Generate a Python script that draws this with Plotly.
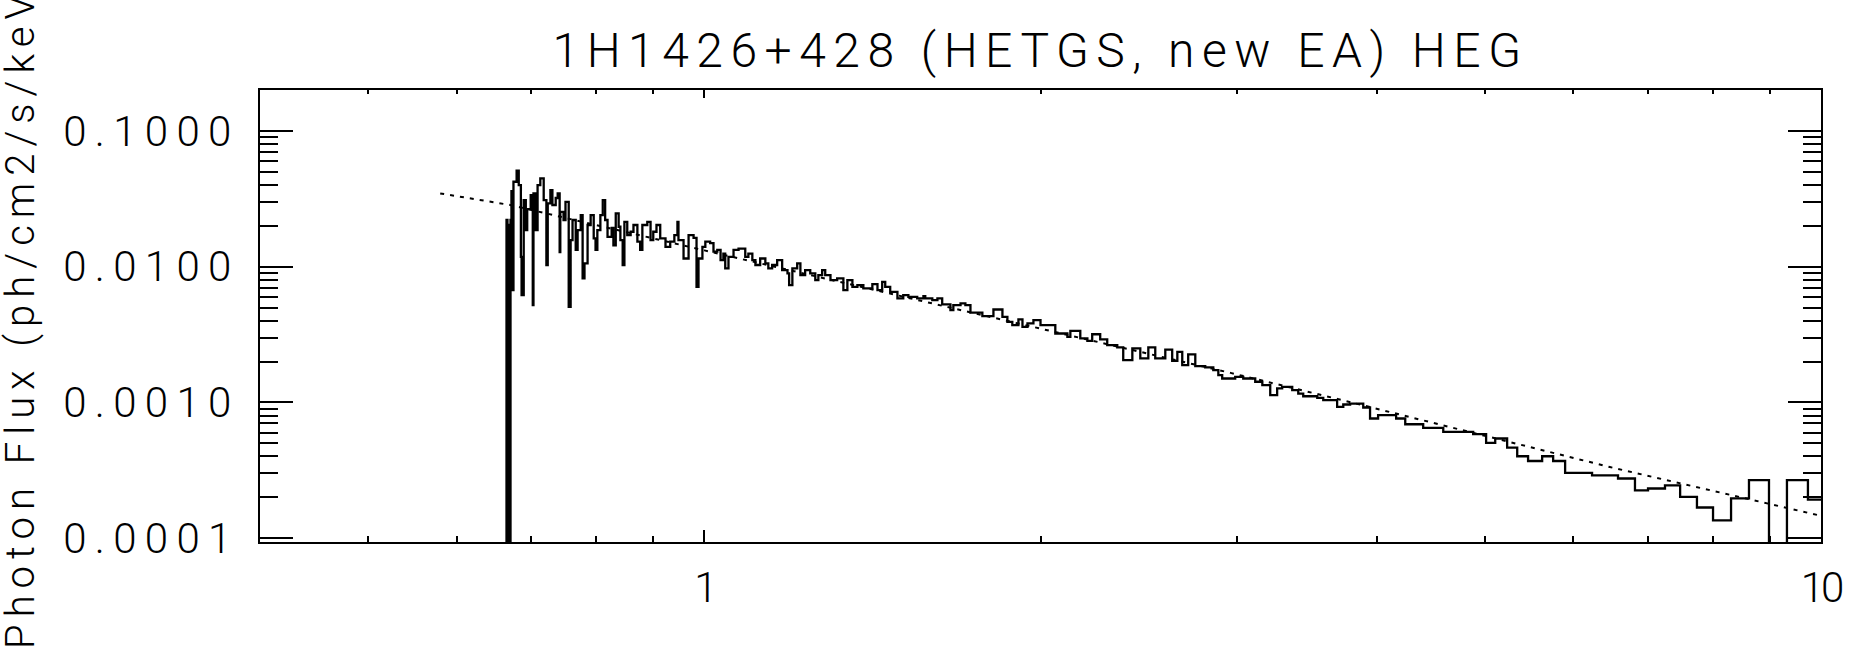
import plotly.graph_objects as go

# HEG first-order spectrum of 1H1426+428, drawn as a step histogram.
# Lower bin edges in keV and the photon flux of each bin (ph/cm2/s/keV);
# a flux of 0.0 marks a bin with no positive flux.

# soft band, below 1 keV
soft_lo_kev = [
    0.6636, 0.6650, 0.6663, 0.6677, 0.6691, 0.6705, 0.6718, 0.6732, 0.6746, 0.679,
    0.682, 0.685, 0.686, 0.689, 0.692, 0.694, 0.699, 0.702, 0.703, 0.706,
    0.709, 0.713, 0.718, 0.722, 0.724, 0.728, 0.731, 0.736, 0.739, 0.742,
    0.743, 0.748, 0.751, 0.756, 0.759, 0.762, 0.767, 0.770, 0.775, 0.778,
    0.781, 0.786, 0.791, 0.796, 0.799, 0.802, 0.807, 0.811, 0.815, 0.819,
    0.826, 0.829, 0.833, 0.838, 0.841, 0.845, 0.848, 0.853, 0.859, 0.864,
    0.871, 0.876, 0.880, 0.889, 0.895, 0.900, 0.906, 0.913, 0.923, 0.932,
    0.940, 0.946, 0.948, 0.958, 0.968, 0.978, 0.984, 0.988, 0.996,
]
soft_flux = [
    0.0, 0.0221, 0.0, 0.0203, 0.0, 0.0221, 0.0361, 0.00672, 0.0423, 0.0510,
    0.0400, 0.0118, 0.00617, 0.0310, 0.0186, 0.0266, 0.0337, 0.00521, 0.0347, 0.0186,
    0.0400, 0.0448, 0.0310, 0.0103, 0.0293, 0.0367, 0.0285, 0.0321, 0.0347, 0.0128,
    0.0254, 0.0221, 0.0301, 0.00506, 0.0157, 0.0221, 0.0133, 0.0186, 0.0240, 0.00820,
    0.0106, 0.0203, 0.0240, 0.0162, 0.0133, 0.0186, 0.0240, 0.0310, 0.0221, 0.0166,
    0.0193, 0.0144, 0.0247, 0.0197, 0.0157, 0.0103, 0.0214, 0.0171, 0.0181, 0.0203,
    0.0153, 0.0133, 0.0203, 0.0214, 0.0157, 0.0181, 0.0203, 0.0162, 0.0140, 0.0153,
    0.0171, 0.0214, 0.0157, 0.0115, 0.0171, 0.0163, 0.00711, 0.0115, 0.0140,
]

# hard band, 1 keV and up
hard_lo_kev = [
    1.002, 1.012,
    1.019, 1.027, 1.034, 1.040, 1.044, 1.051, 1.062, 1.073, 1.088, 1.095,
    1.104, 1.111, 1.122, 1.134, 1.141, 1.150, 1.162, 1.174, 1.187, 1.191,
    1.199, 1.211, 1.219, 1.231, 1.244, 1.257, 1.265, 1.275, 1.283, 1.297,
    1.315, 1.332, 1.343, 1.357, 1.371, 1.388, 1.414, 1.429, 1.443, 1.452,
    1.467, 1.489, 1.507, 1.523, 1.551, 1.571, 1.577, 1.600, 1.617, 1.633,
    1.661, 1.671, 1.696, 1.713, 1.731, 1.774, 1.815, 1.849, 1.868, 1.887,
    1.911, 1.927, 1.947, 1.971, 2.000, 2.062, 2.114, 2.127, 2.171, 2.203,
    2.225, 2.262, 2.295, 2.343, 2.372, 2.417, 2.457, 2.498, 2.534, 2.587,
    2.624, 2.652, 2.679, 2.712, 2.752, 2.809, 2.856, 2.886, 2.909, 2.988,
    3.038, 3.114, 3.160, 3.212, 3.258, 3.292, 3.361, 3.403, 3.438, 3.539,
    3.583, 3.687, 3.734, 3.787, 3.891, 3.946, 4.012, 4.164, 4.243, 4.403,
    4.589, 4.881, 5.013, 5.108, 5.235, 5.345, 5.466, 5.627, 5.756, 5.900,
    6.237, 6.580, 6.814, 7.000, 7.249, 7.479, 7.743, 8.004, 8.307, 8.620,
    8.983, 9.322, 9.734,
]
hard_flux = [
    0.0153, 0.0149,
    0.0129, 0.0133, 0.0112, 0.0125, 0.00971, 0.0118, 0.0133, 0.0136, 0.0118, 0.0125,
    0.0112, 0.0103, 0.0115, 0.0106, 0.00971, 0.0103, 0.0112, 0.00944, 0.00892, 0.00732,
    0.00971, 0.0106, 0.00867, 0.00944, 0.00892, 0.00796, 0.00867, 0.00944, 0.00867, 0.00796,
    0.00820, 0.00672, 0.00796, 0.00711, 0.00732, 0.00692, 0.00744, 0.00672, 0.00774, 0.00711,
    0.00653, 0.00584, 0.00617, 0.00600, 0.00584, 0.00607, 0.00584, 0.00567, 0.00584, 0.00527,
    0.00479, 0.00521, 0.00536, 0.00521, 0.00459, 0.00432, 0.00484, 0.00427, 0.00392, 0.00371,
    0.00409, 0.00360, 0.00382, 0.00404, 0.00371, 0.00322, 0.00304, 0.00337, 0.00296, 0.00284,
    0.00318, 0.00291, 0.00264, 0.00254, 0.00205, 0.00250, 0.00211, 0.00254, 0.00211, 0.00245,
    0.00202, 0.00236, 0.00188, 0.00226, 0.00185, 0.00181, 0.00173, 0.00159, 0.00150, 0.00154,
    0.00150, 0.00142, 0.00134, 0.00113, 0.00127, 0.00130, 0.00123, 0.00116, 0.00111, 0.00108,
    0.00104, 0.000926, 0.000965, 0.000981, 0.000917, 0.000761, 0.000805, 0.000761, 0.000690, 0.000648,
    0.000606, 0.000583, 0.000503, 0.000542, 0.000465, 0.000401, 0.000370, 0.000401, 0.000370, 0.000302,
    0.000290, 0.000275, 0.000225, 0.000232, 0.000245, 0.000201, 0.000168, 0.000135, 0.000196, 0.000267,
    0.0, 0.000267, 0.000192,
]
bin_hi_last_kev = 10.19

# Continuum model (absorbed power law) sampled along the energy axis
model_kev = [0.58, 0.67, 1.0, 2.0, 2.96, 3.69, 6.47, 10.0]
model_flux = [0.0347, 0.0285, 0.0132, 0.00350, 0.00165, 0.00106, 0.000334, 0.000146]

# Axis ticks
y_major = [0.1, 0.01, 0.001, 0.0001]
y_major_text = ["0.1000", "0.0100", "0.0010", "0.0001"]
x_major = [1, 10]
x_major_text = ["1", "10"]

title_text = "1H1426+428 (HETGS, new EA) HEG"
ytitle_text = "Photon Flux (ph/cm2/s/keV)"

W, H = 1857, 649
M_L, M_R, M_T, M_B = 260, 36, 90, 107
X_RANGE = [-0.39794, 1.0]          # log10 keV: 0.4 .. 10
Y_RANGE = [-4.0288, -0.6976]       # log10 flux

FONT = "Roboto"
INK = "black"


def spaced(s, px):
    return f'<span style="letter-spacing:{px}px">{s}</span>'


# non-positive bins drop below the bottom of the log axis
FLOOR = 1e-6
bin_lo_kev = soft_lo_kev + hard_lo_kev
flux = soft_flux + hard_flux
step_x = bin_lo_kev + [bin_hi_last_kev]
step_y = [f if f > 0 else FLOOR for f in flux]
step_y = step_y + [step_y[-1]]

minor_dec = [2, 3, 4, 5, 6, 7, 8, 9]
x_minor = [m / 10 for m in (5, 6, 7, 8, 9)] + minor_dec
y_minor = [m * 10.0 ** e for e in (-4, -3, -2, -1) for m in minor_dec]

fig = go.Figure()
fig.add_trace(go.Scatter(
    x=model_kev, y=model_flux, mode="lines",
    line=dict(color=INK, width=2, dash="4px,6px"),
    hoverinfo="skip", showlegend=False,
))
fig.add_trace(go.Scatter(
    x=step_x, y=step_y, mode="lines",
    line=dict(color=INK, width=2.3, shape="hv"),
    showlegend=False,
))
# carries the top frame edge
fig.add_trace(go.Scatter(x=[1], y=[0.01], xaxis="x2", mode="markers",
                         marker=dict(opacity=0), hoverinfo="skip",
                         showlegend=False))

tick_font = dict(family=FONT, size=42, color=INK, weight=300)

fig.update_layout(
    width=W, height=H,
    margin=dict(l=M_L, r=M_R, t=M_T, b=M_B, pad=0),
    paper_bgcolor="white", plot_bgcolor="white",
    title=dict(
        text=spaced(title_text, 7.5),
        x=0.5, xref="paper", xanchor="center",
        y=1 - 50 / H, yref="container", yanchor="middle",
        font=dict(family=FONT, size=48, color=INK, weight=300),
    ),
    xaxis=dict(
        type="log", range=X_RANGE, showgrid=False, zeroline=False,
        showline=True, linecolor=INK, linewidth=2, mirror=False,
        ticks="inside", ticklen=12, tickwidth=2, tickcolor=INK,
        tickmode="array", tickvals=x_major,
        ticktext=[spaced(t, -3) for t in x_major_text],
        tickfont=tick_font, ticklabelstandoff=8,
        minor=dict(ticks="inside", ticklen=6, tickwidth=2, tickcolor=INK,
                   tickmode="array", tickvals=x_minor),
    ),
    xaxis2=dict(
        type="log", range=X_RANGE, overlaying="x", side="top",
        anchor="y", showgrid=False, zeroline=False,
        showline=True, linecolor=INK, linewidth=2,
        ticks="inside", ticklen=8, tickwidth=2, tickcolor=INK,
        tickmode="array", tickvals=x_major, showticklabels=False,
        minor=dict(ticks="inside", ticklen=4, tickwidth=2, tickcolor=INK,
                   tickmode="array", tickvals=x_minor),
    ),
    yaxis=dict(
        type="log", range=Y_RANGE, showgrid=False, zeroline=False,
        showline=True, linecolor=INK, linewidth=2, mirror="ticks",
        ticks="inside", ticklen=33, tickwidth=2, tickcolor=INK,
        tickmode="array", tickvals=y_major,
        ticktext=[spaced(t, 8.3) for t in y_major_text],
        tickfont=tick_font, ticklabelstandoff=10,
        minor=dict(ticks="inside", ticklen=18, tickwidth=2, tickcolor=INK,
                   tickmode="array", tickvals=y_minor),
    ),
    annotations=[dict(
        text=spaced(ytitle_text, 7), textangle=-90, showarrow=False,
        xref="paper", yref="paper",
        x=(20 - M_L) / (W - M_L - M_R), xanchor="center",
        y=(H - M_B - 651) / (H - M_T - M_B), yanchor="bottom",
        font=dict(family=FONT, size=40, color=INK, weight=300),
    )],
)

fig.write_html("out.html")
